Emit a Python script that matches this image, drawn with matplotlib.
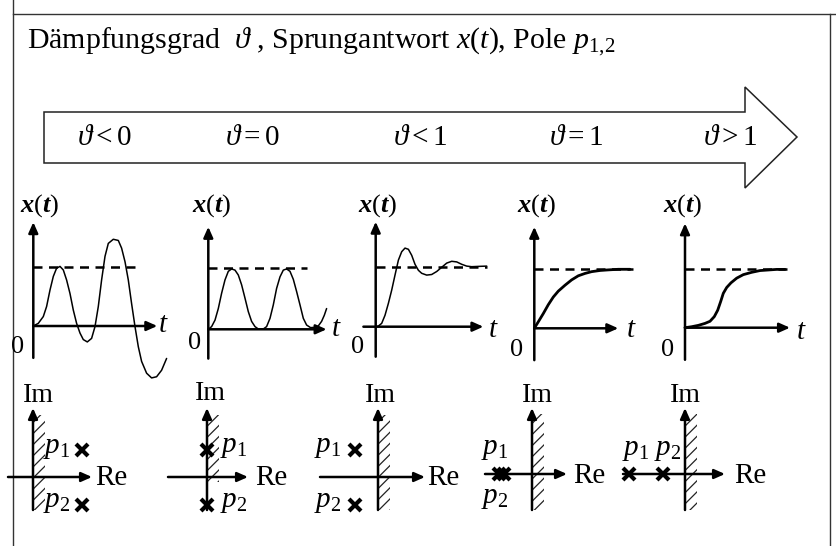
import matplotlib
matplotlib.use('Agg')
import matplotlib.pyplot as plt
from matplotlib.patches import Polygon, Rectangle

# ---------------- data ----------------
damping_labels = [r'$\vartheta < 0$', r'$\vartheta = 0$', r'$\vartheta < 1$',
                  r'$\vartheta = 1$', r'$\vartheta > 1$']
steady_state = 1.0

# step responses x(t) (t in arbitrary time units, x relative to steady state)
t_neg = [0, 0.5, 1.0, 1.33, 1.67, 2.0, 2.33, 2.67, 3.0, 3.33, 3.67, 4.0, 4.33, 4.67,
         5.0, 5.4, 5.83, 6.17, 6.5, 6.83, 7.17, 7.5, 8.0, 8.5, 8.83, 9.17, 9.5, 9.83,
         10.17, 10.5, 10.83, 11.33, 11.83, 12.33, 12.83, 13.33]
x_neg = [0, 0.045, 0.16, 0.33, 0.61, 0.84, 0.98, 1.01, 0.95, 0.78, 0.55, 0.27, 0.045,
         -0.12, -0.23, -0.27, -0.21, -0.01, 0.33, 0.78, 1.18, 1.40, 1.47, 1.45, 1.32,
         1.09, 0.78, 0.38, -0.01, -0.35, -0.60, -0.80, -0.88, -0.86, -0.75, -0.55]

t_zero = [0, 0.33, 0.67, 1.0, 1.33, 1.67, 2.0, 2.33, 2.67, 3.0, 3.33, 3.67, 4.0, 4.33,
          4.67, 5.0, 5.5, 5.83, 6.17, 6.5, 6.83, 7.17, 7.5, 7.83, 8.17, 8.5, 8.83, 9.17,
          9.5, 9.83, 10.23, 10.67, 11.0, 11.33, 11.6, 11.83]
x_zero = [0, 0.044, 0.15, 0.34, 0.59, 0.81, 0.95, 0.99, 0.97, 0.89, 0.73, 0.51, 0.29,
          0.13, 0.044, 0.005, 0.005, 0.044, 0.18, 0.40, 0.67, 0.86, 0.97, 0.99, 0.95,
          0.82, 0.62, 0.40, 0.18, 0.07, 0.027, 0.033, 0.055, 0.13, 0.23, 0.34]

t_under = [0, 0.27, 0.6, 0.93, 1.27, 1.6, 1.93, 2.27, 2.6, 2.93, 3.27, 3.6, 3.93, 4.27,
           4.6, 5.1, 5.6, 6.1, 6.6, 7.1, 7.6, 8.1, 8.6, 9.1, 9.6, 10.27, 11.1]
x_under = [0, 0.011, 0.056, 0.19, 0.39, 0.61, 0.86, 1.11, 1.25, 1.31, 1.29, 1.19, 1.04,
           0.94, 0.89, 0.86, 0.87, 0.92, 0.99, 1.06, 1.09, 1.08, 1.04, 1.01, 1.0,
           1.005, 1.01]

t_crit = [0, 0.4, 0.9, 1.4, 1.9, 2.4, 3.07, 3.73, 4.4, 5.07, 5.73, 6.57, 7.4, 8.4, 9.57]
x_crit = [0, 0.11, 0.25, 0.40, 0.53, 0.63, 0.73, 0.82, 0.89, 0.93, 0.96, 0.98, 0.99,
          1.0, 1.0]

t_over = [0, 0.67, 1.33, 2.0, 2.5, 2.93, 3.27, 3.57, 3.83, 4.17, 4.6, 5.17, 5.83, 6.67,
          7.5, 8.33, 9.17, 10.0]
x_over = [0, 0.017, 0.04, 0.074, 0.11, 0.19, 0.30, 0.45, 0.59, 0.69, 0.77, 0.85, 0.91,
          0.95, 0.98, 0.99, 1.0, 1.0]

step_t = [t_neg, t_zero, t_under, t_crit, t_over]
step_x = [x_neg, x_zero, x_under, x_crit, x_over]

# poles p1, p2 (Re, Im)
poles_re = [[1.96, 1.96], [0.0, 0.0], [-0.92, -0.92], [-1.3, -1.1], [-2.24, -0.88]]
poles_im = [[1.1, -1.1], [1.1, -1.1], [1.1, -1.1], [0.0, 0.0], [0.0, 0.0]]

# ---------------- style / layout ----------------
plt.rcParams['font.family'] = ['Liberation Serif', 'DejaVu Serif']
plt.rcParams['mathtext.fontset'] = 'custom'
plt.rcParams['mathtext.rm'] = 'Liberation Serif'
plt.rcParams['mathtext.it'] = 'Liberation Serif:italic'
plt.rcParams['mathtext.bf'] = 'Liberation Serif:italic:bold'
plt.rcParams['hatch.linewidth'] = 0.9

W, H = 837, 546
fig = plt.figure(figsize=(W / 100, H / 100), dpi=100)
ax0 = fig.add_axes([0, 0, 1, 1])
ax0.set_xlim(0, W)
ax0.set_ylim(H, 0)
ax0.set_axis_off()

# table borders
ax0.plot([13, 13], [0, H], color='#333333', lw=1.0)
ax0.plot([13, W], [14, 14], color='#333333', lw=1.0)
ax0.plot([830, 830], [14, H], color='#333333', lw=1.0)

# title
ax0.text(27, 42, r'Dämpfungsgrad  $\vartheta$ , Sprungantwort $x(t)$, Pole $p_{1{,}2}$',
         fontsize=21.5, va='center', ha='left')

# big arrow
arrow = Polygon([(44, 112), (745, 112), (745, 87), (797, 137), (745, 188),
                 (745, 163), (44, 163)], closed=True, facecolor='white',
                edgecolor='#222222', lw=1.1)
ax0.add_patch(arrow)
label_x = [104, 252, 420, 576, 730]
for lx, lab in zip(label_x, damping_labels):
    ax0.text(lx, 138, lab, fontsize=21, ha='center', va='center')


def make_axes(ox, oy, sx, sy, box):
    l, t, r, b = box
    ax = fig.add_axes([l / W, 1 - b / H, (r - l) / W, (b - t) / H])
    ax.set_xlim((l - ox) / sx, (r - ox) / sx)
    ax.set_ylim((oy - b) / sy, (oy - t) / sy)
    ax.set_axis_off()
    return ax


def axis_arrow(ax, start, end, lw=1.8):
    ax.annotate('', xy=end, xytext=start, annotation_clip=False,
                arrowprops=dict(arrowstyle='-|>,head_length=0.45,head_width=0.2',
                                lw=lw, color='black', shrinkA=0, shrinkB=0,
                                mutation_scale=14))


# step-response panel layout: origin px, scale px/unit, axis extents, line width
step_layout = [
    dict(ox=33.3, oy=326, sx=10, sy=59, ybot=-0.54, ytop=1.76, tmin=0, tmax=12.4, dash=10.2, lw=1.1),
    dict(ox=208.3, oy=329.3, sx=10, sy=61, ybot=-0.48, ytop=1.68, tmin=0, tmax=11.83, dash=9.83, lw=1.1),
    dict(ox=375.7, oy=326.7, sx=10, sy=60, ybot=-0.5, ytop=1.75, tmin=-1.23, tmax=10.77, dash=11.1, lw=1.1),
    dict(ox=534.3, oy=328.3, sx=10, sy=59, ybot=-0.54, ytop=1.72, tmin=0, tmax=8.4, dash=9.9, lw=2.0),
    dict(ox=685, oy=327.7, sx=10, sy=58.3, ybot=-0.55, ytop=1.79, tmin=0, tmax=10.5, dash=10.17, lw=2.0),
]
step_text = [
    dict(xt=(40, 206), zero=(18, 347), t=(163, 325)),
    dict(xt=(212, 206), zero=(195, 343), t=(336, 329)),
    dict(xt=(378, 206), zero=(358, 347), t=(493, 330)),
    dict(xt=(537, 206), zero=(517, 350), t=(631, 330)),
    dict(xt=(683, 206), zero=(668, 350), t=(801, 332)),
]

for lay, txt, tt, xx in zip(step_layout, step_text, step_t, step_x):
    ox, oy = lay['ox'], lay['oy']
    ax = make_axes(ox, oy, lay['sx'], lay['sy'], (ox - 30, 195, ox + 150, 390))
    axis_arrow(ax, (0, lay['ybot']), (0, lay['ytop']))
    axis_arrow(ax, (lay['tmin'], 0), (lay['tmax'], 0))
    ax.plot([0, lay['dash']], [steady_state, steady_state], color='black', lw=1.8,
            dashes=(3.6, 2.6), clip_on=False)
    ax.plot(tt, xx, color='black', lw=lay['lw'], clip_on=False, solid_capstyle='round')
    ax0.text(*txt['xt'], r'$\mathbf{x}(\mathbf{t})$', fontsize=19, ha='center', va='center')
    ax0.text(*txt['zero'], '0', fontsize=19, ha='center', va='center')
    ax0.text(*txt['t'], r'$t$', fontsize=21, ha='center', va='center')

# pole plot layout
pole_layout = [
    dict(ox=33, oy=477, re=(-1.0, 2.36), im=(-1.32, 2.76), hatch=(-1.32, 2.48)),
    dict(ox=207, oy=477, re=(-1.56, 1.64), im=(-1.32, 2.76), hatch=(-0.2, 2.48)),
    dict(ox=378, oy=477, re=(-2.32, 1.88), im=(-1.32, 2.76), hatch=(-1.32, 2.48)),
    dict(ox=532, oy=474, re=(-1.88, 1.4), im=(-1.44, 2.64), hatch=(-1.44, 2.4)),
    dict(ox=685, oy=474, re=(-2.48, 1.6), im=(-1.44, 2.64), hatch=(-1.44, 2.4)),
]
pole_text = [
    dict(Im=(38, 395), Re=(111, 478), p1=(57, 448), p2=(57, 502)),
    dict(Im=(210, 393), Re=(271, 478), p1=(234, 447), p2=(234, 502)),
    dict(Im=(380, 395), Re=(443, 478), p1=(328, 447), p2=(328, 502)),
    dict(Im=(537, 395), Re=(589, 476), p1=(495, 449), p2=(495, 498)),
    dict(Im=(685, 395), Re=(750, 476), p1=(636, 450), p2=(668, 450)),
]
S = 25.0
for lay, txt, pr, pi in zip(pole_layout, pole_text, poles_re, poles_im):
    ox, oy = lay['ox'], lay['oy']
    ax = make_axes(ox, oy, S, S, (ox - 70, 385, ox + 70, 530))
    hb, ht = lay['hatch']
    ax.add_patch(Rectangle((0.05, hb), 0.42, ht - hb, facecolor='none', edgecolor='#222222',
                           lw=0, hatch='///', clip_on=False))
    axis_arrow(ax, (0, lay['im'][0]), (0, lay['im'][1]))
    axis_arrow(ax, (lay['re'][0], 0), (lay['re'][1], 0))
    ax.plot(pr, pi, linestyle='none', marker='x', ms=8.5, mew=3.0, color='black',
            clip_on=False)
    ax0.text(*txt['Im'], 'Im', fontsize=20, ha='center', va='center')
    ax0.text(*txt['Re'], 'Re', fontsize=21, ha='center', va='center')
    ax0.text(*txt['p1'], r'$p_1$', fontsize=21, ha='center', va='center')
    ax0.text(*txt['p2'], r'$p_2$', fontsize=21, ha='center', va='center')

fig.savefig('out.png', dpi=100, facecolor='white')
